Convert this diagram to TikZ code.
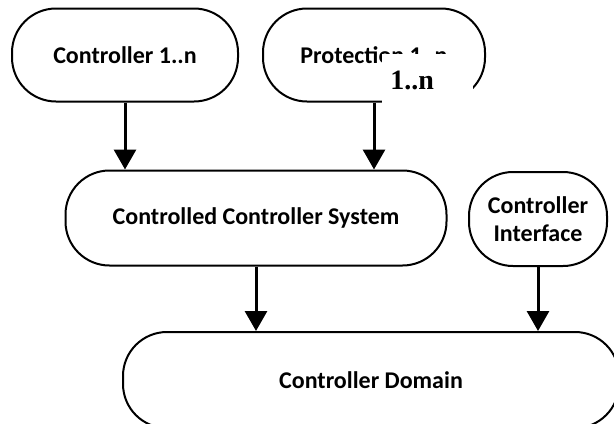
\documentclass[tikz,border=0pt]{standalone}
\usepackage{fontspec}
\setmainfont{Carlito}
\newfontfamily\serifbold{Liberation Serif}
\usetikzlibrary{arrows.meta}
\tikzset{
  blk/.style={draw, line width=1pt, rounded corners=22pt, align=center, inner sep=0pt,
    font=\fontsize{12}{14}\selectfont\bfseries},
  flow/.style={line width=1.5pt, ->},
}
\begin{document}
\begin{tikzpicture}[x=0.5pt, y=-0.5pt, >={Triangle[width=11pt,length=10pt]}]
  \useasboundingbox (0,0) rectangle (614,423);
  \clip (0,0) rectangle (614,423);
  % top row
  \node[blk, minimum width=113pt, minimum height=46.5pt] (ctrl) at (125,55) {Controller 1..n};
  \node[blk, minimum width=111pt, minimum height=46.5pt] (prot) at (374,55) {Protection 1..n};
  \node[fill=white, anchor=north west, minimum width=45.5pt, minimum height=26.5pt,
    inner xsep=4pt, text width=37.5pt, align=left,
    font=\serifbold\fontsize{14}{16}\selectfont\bfseries] (patch) at (382,54) {1..n};
  % middle row
  \node[blk, minimum width=190.5pt, minimum height=47.5pt] (ccs) at (256,218) {Controlled Controller System};
  \node[blk, minimum width=69pt, minimum height=47pt] (iface) at (538,219) {Controller\\Interface};
  % bottom
  \node[blk, minimum width=248pt, minimum height=48pt] (dom) at (371,380) {Controller Domain};
  \draw[flow] (ctrl.south) -- (ctrl.south |- ccs.north);
  \draw[flow] (prot.south) -- (prot.south |- ccs.north);
  \draw[flow] (ccs.south) -- (ccs.south |- dom.north);
  \draw[flow] (iface.south) -- (iface.south |- dom.north);
\end{tikzpicture}
\end{document}
